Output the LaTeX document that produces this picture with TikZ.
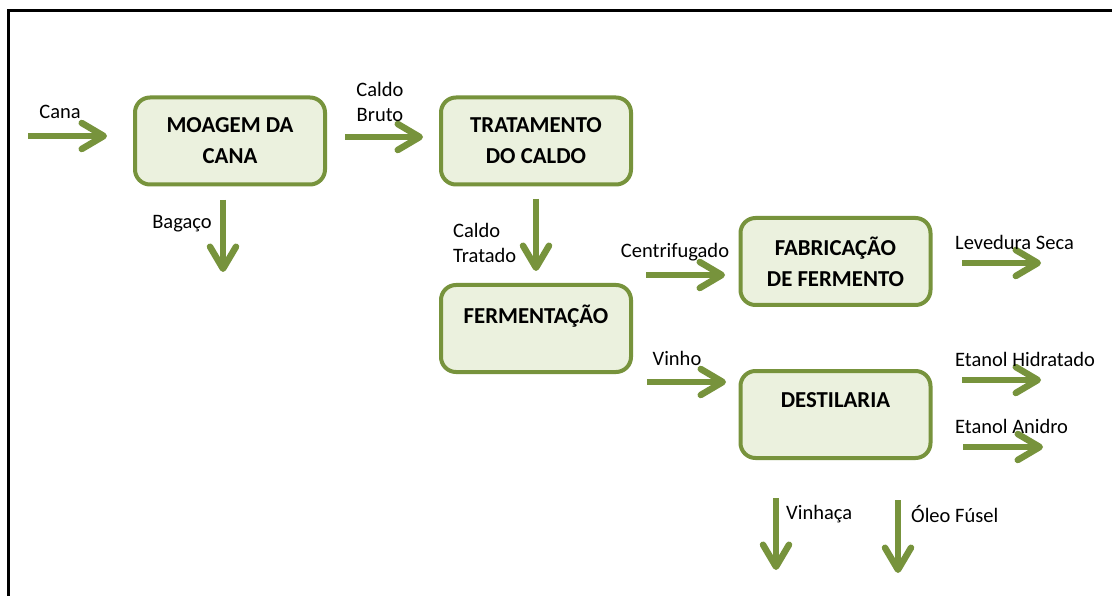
\documentclass[tikz,border=0pt]{standalone}
\usepackage{fontspec}
\setmainfont{Carlito}
\usetikzlibrary{arrows.meta}
\definecolor{boxfill}{HTML}{EBF1DE}
\definecolor{boxline}{HTML}{77933C}
\definecolor{arrowgreen}{HTML}{77933C}
\begin{document}
\begin{tikzpicture}[x=1pt,y=-1pt,
  procbox/.style={draw=boxline, fill=boxfill, line width=4pt, rounded corners=15pt,
    minimum width=190pt, minimum height=87pt, inner sep=0pt, align=center,
    font=\bfseries\fontsize{22.8}{31}\selectfont},
  lbl/.style={inner sep=0pt, align=center, font=\fontsize{20.5}{25}\selectfont},
  lbll/.style={lbl, align=left, anchor=west},
  flow/.style={draw=arrowgreen, line width=6.5pt,
    -{Straight Barb[length=22pt, width=26pt, round]}}
]
\useasboundingbox (0,0) rectangle (1112,596);
\fill[white] (0,0) rectangle (1112,596);
\draw[line width=3pt] (8.7,596) -- (8.7,10.5) -- (1112,10.5);

% boxes
\node[procbox] (moagem) at (230,141) {\raisebox{-2pt}{MOAGEM DA}\\\raisebox{-2pt}{CANA}};
\node[procbox] (tratamento) at (536,141) {\raisebox{-2pt}{TRATAMENTO}\\\raisebox{-2pt}{DO CALDO}};
\node[procbox] (fermentacao) at (536,328.5) {\raisebox{-2pt}{FERMENTAÇÃO}\\\mbox{}};
\node[procbox] (fabricacao) at (835.5,261.5) {\raisebox{-1pt}{FABRICAÇÃO}\\\raisebox{-1pt}{DE FERMENTO}};
\node[procbox] (destilaria) at (835.5,414.5) {\raisebox{-2pt}{DESTILARIA}\\\mbox{}};

% arrow end points
\coordinate (canaA) at (28,136);   \coordinate (canaB) at (107,136);
\coordinate (brutoA) at (345,137); \coordinate (brutoB) at (423,137);
\coordinate (bagA) at (223,200);   \coordinate (bagB) at (223,272);
\coordinate (tratA) at (536,199);  \coordinate (tratB) at (536,271);
\coordinate (centA) at (646,275);  \coordinate (centB) at (725,275);
\coordinate (vinhoA) at (647,382); \coordinate (vinhoB) at (726,382);
\coordinate (levA) at (962,263);   \coordinate (levB) at (1041,263);
\coordinate (hidA) at (962,380);   \coordinate (hidB) at (1041,380);
\coordinate (aniA) at (963,447);   \coordinate (aniB) at (1043,447);
\coordinate (vinhacaA) at (776,498); \coordinate (vinhacaB) at (776,570);
\coordinate (oleoA) at (898,500);  \coordinate (oleoB) at (898,573);

\draw[flow] (canaA) -- (canaB);
\draw[flow] (brutoA) -- (brutoB);
\draw[flow] (bagA) -- (bagB);
\draw[flow] (tratA) -- (tratB);
\draw[flow] (centA) -- (centB);
\draw[flow] (vinhoA) -- (vinhoB);
\draw[flow] (levA) -- (levB);
\draw[flow] (hidA) -- (hidB);
\draw[flow] (aniA) -- (aniB);
\draw[flow] (vinhacaA) -- (vinhacaB);
\draw[flow] (oleoA) -- (oleoB);

% labels
\node[lbl] (lcana) at (60,112) {Cana};
\node[lbl] (lbruto) at (380,101.5) {Caldo\\Bruto};
\node[lbl] (lbag) at (182,224) {Bagaço};
\node[lbll] (ltrat) at (453,242.5) {Caldo\\Tratado};
\node[lbl] (lcent) at (675,252.5) {Centrifugado};
\node[lbl] (lvinho) at (677,358.5) {Vinho};
\node[lbll] (llev) at (955,242) {Levedura Seca};
\node[lbll] (lhid) at (955,359) {Etanol Hidratado};
\node[lbll] (lani) at (955,426) {Etanol Anidro};
\node[lbll] (lvinhaca) at (786,514) {Vinhaça};
\node[lbll] (loleo) at (911,514) {Óleo Fúsel};
\end{tikzpicture}
\end{document}
